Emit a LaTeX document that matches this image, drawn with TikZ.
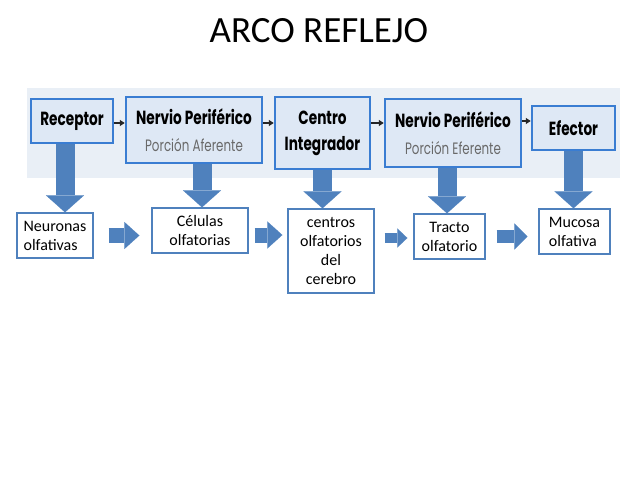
\documentclass[tikz,border=0pt]{standalone}
\usepackage{fontspec}
\setmainfont{Carlito}
\newfontfamily\boxfont[FakeStretch=0.72]{Poppins}
\usepackage{xcolor}
\definecolor{arrowblue}{RGB}{79,129,189}
\definecolor{boxedge}{RGB}{58,125,210}
\definecolor{boxfill}{RGB}{222,232,245}
\definecolor{bandgray}{RGB}{233,239,246}
\definecolor{subgray}{RGB}{105,105,105}
\usepackage{tikz}
\usetikzlibrary{arrows.meta,positioning}

\begin{document}
\begin{tikzpicture}[x=1pt,y=-1pt,
topbox/.style={draw=boxedge,line width=2.5pt,fill=boxfill,inner sep=0pt,align=center,font=\boxfont\bfseries\fontsize{19}{26}\selectfont},
lowbox/.style={draw=arrowblue,line width=1.3pt,fill=white,inner sep=0pt,font=\fontsize{16}{19}\selectfont},
smallarrow/.style={-{Triangle[length=5pt,width=6pt]},line width=1.3pt,draw=black!85},
downarrow/.style={draw=arrowblue,line width=19pt,-{Triangle[length=17pt,width=38pt,line width=0.1pt]}},
fatarrow/.style={draw=arrowblue,line width=15pt,-{Triangle[length=15pt,width=27pt,line width=0.1pt]}}]
\useasboundingbox (0,0) rectangle (638,479);
\node[font=\fontsize{37}{40}\selectfont] (title) at (319,31) {ARCO REFLEJO};
\fill[bandgray] (27,88) rectangle (620,178);
% fila superior
\node[topbox,minimum width=82pt,minimum height=44pt] (receptor) at (72,121) {Receptor};
\node[topbox,minimum width=136pt,minimum height=66pt] (aferente) at (194,130) {Nervio Periférico\\[1pt]{\color{subgray}\boxfont\mdseries\fontsize{16.5}{18}\selectfont Porción Aferente}};
\node[topbox,minimum width=95pt,minimum height=72pt] (centro) at (322.5,133) {Centro\\Integrador};
\node[topbox,minimum width=136pt,minimum height=68pt] (eferente) at (453,133) {Nervio Periférico\\[1pt]{\color{subgray}\boxfont\mdseries\fontsize{16.5}{18}\selectfont Porción Eferente}};
\node[topbox,minimum width=83pt,minimum height=44pt] (efector) at (573.5,128) {Efector};
% fila inferior
\node[lowbox,align=left,minimum width=76pt,minimum height=45pt] (neuronas) at (55,235.5) {Neuronas\\olfativas};
\node[lowbox,align=center,minimum width=96pt,minimum height=45pt] (celulas) at (200,230.5) {Células\\olfatorias};
\node[lowbox,align=center,minimum width=86pt,minimum height=84pt] (centros) at (331,251) {centros\\olfatorios\\del\\cerebro};
\node[lowbox,align=center,minimum width=71pt,minimum height=45pt] (tracto) at (449.5,236.5) {Tracto\\olfatorio};
\node[lowbox,align=left,minimum width=71pt,minimum height=45pt] (mucosa) at (574.5,231.5) {Mucosa\\olfativa};
% flechas pequeñas
\draw[smallarrow] ([yshift=-2pt]receptor.east) -- ([yshift=-2pt]receptor.east -| aferente.west);
\draw[smallarrow] ([yshift=7pt]aferente.east) -- ([yshift=7pt]aferente.east -| centro.west);
\draw[smallarrow] ([yshift=10pt]centro.east) -- ([yshift=10pt]centro.east -| eferente.west);
\draw[smallarrow] ([yshift=12pt]eferente.east) -- ([yshift=12pt]eferente.east -| efector.west);
% flechas hacia abajo
\draw[downarrow] ([xshift=-7pt]receptor.south) -- ([xshift=-7pt]receptor.south |- neuronas.north);
\draw[downarrow] ([xshift=8pt]aferente.south) -- ([xshift=8pt]aferente.south |- celulas.north);
\draw[downarrow] (centro.south) -- (centro.south |- centros.north);
\draw[downarrow] ([xshift=-6pt]eferente.south) -- ([xshift=-6pt]eferente.south |- tracto.north);
\draw[downarrow] (efector.south) -- (efector.south |- mucosa.north);
% flechas entre cajas
\draw[fatarrow,shorten <=15pt,shorten >=12pt] (neuronas.east) -- (neuronas.east -| celulas.west);
\draw[fatarrow,shorten <=6pt,shorten >=5pt] ([yshift=-4.5pt]celulas.east) -- ([yshift=-4.5pt]celulas.east -| centros.west);
\draw[fatarrow,line width=10pt,-{Triangle[length=10pt,width=19pt,line width=0.1pt]},shorten <=10pt,shorten >=6pt] ([yshift=13pt]centros.east) -- ([yshift=13pt]centros.east -| tracto.west);
\draw[fatarrow,line width=13pt,-{Triangle[length=13pt,width=26pt,line width=0.1pt]},shorten <=11pt,shorten >=11pt] (tracto.east) -- (tracto.east -| mucosa.west);
\end{tikzpicture}
\end{document}
